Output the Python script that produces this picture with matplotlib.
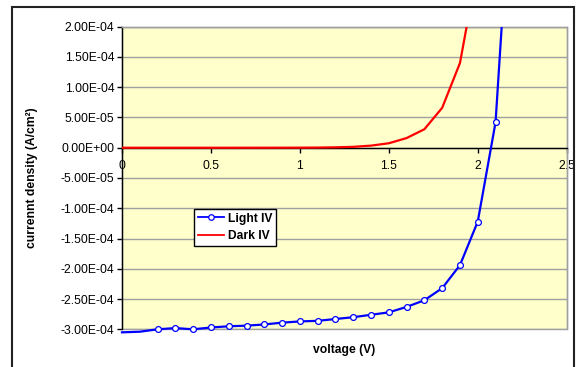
import matplotlib
matplotlib.use("Agg")
import matplotlib.pyplot as plt
from matplotlib.patches import Rectangle
from matplotlib.lines import Line2D
from matplotlib.ticker import FuncFormatter, MultipleLocator

plt.rcParams['font.family'] = ['Liberation Sans', 'DejaVu Sans']

# data
voltage = [0.0, 0.1, 0.2, 0.3, 0.4, 0.5, 0.6, 0.7, 0.8, 0.9, 1.0, 1.1,
           1.2, 1.3, 1.4, 1.5, 1.6, 1.7, 1.8, 1.9, 2.0, 2.1, 2.2]
light_iv = [-3.05e-4, -3.04e-4, -3.00e-4, -2.98e-4, -3.00e-4, -2.97e-4,
            -2.95e-4, -2.94e-4, -2.92e-4, -2.89e-4, -2.87e-4, -2.86e-4,
            -2.83e-4, -2.80e-4, -2.76e-4, -2.72e-4, -2.63e-4, -2.52e-4,
            -2.32e-4, -1.94e-4, -1.22e-4, 4.2e-5, 5.0e-4]
dark_v = [0.0, 0.1, 0.2, 0.3, 0.4, 0.5, 0.6, 0.7, 0.8, 0.9, 1.0, 1.1,
          1.2, 1.3, 1.4, 1.5, 1.6, 1.7, 1.8, 1.9, 2.0]
dark_iv = [0, 0, 0, 0, 0, 0, 0, 1e-8, 3e-8, 8e-8, 1.5e-7, 3e-7,
           7e-7, 1.5e-6, 3.5e-6, 7.4e-6, 1.6e-5, 3.06e-5, 6.6e-5, 1.40e-4, 3.0e-4]
x_ticks = [0, 0.5, 1, 1.5, 2, 2.5]
x_labels = ["0", "0.5", "1", "1.5", "2", "2.5"]

fs = 8.7

fig = plt.figure(figsize=(5.78, 3.67), dpi=100)
ax = fig.add_axes([122 / 578, 1 - 329.3 / 367, 444.7 / 578, 302.6 / 367])
ax.set_facecolor('#FFFFCC')

ax.set_xlim(0, 2.5)
ax.set_ylim(-3e-4, 2e-4)
ax.yaxis.set_major_locator(MultipleLocator(5e-5))
ax.yaxis.set_major_formatter(FuncFormatter(lambda v, p: "0.00E+00" if abs(v) < 1e-12 else f"{v:.2E}"))
ax.set_xticks(x_ticks)
ax.set_xticklabels(x_labels)
ax.grid(axis='y', color='#A0A0A0', lw=1)
ax.set_axisbelow(True)

ax.spines['bottom'].set_position(('data', 0))
ax.spines['bottom'].set_color('black')
ax.spines['left'].set_color('black')
ax.spines['right'].set_color('#A0A0A0')
ax.spines['top'].set_color('#A0A0A0')
for s in ax.spines.values():
    s.set_linewidth(1)
    s.set_zorder(1.5)

# plot area border (bottom edge at -3E-04)
ax.add_patch(Rectangle((0, 0), 1, 1, transform=ax.transAxes, fill=False,
                       edgecolor='#A0A0A0', lw=1, clip_on=False, zorder=1.2))

ax.tick_params(axis='both', direction='out', length=3.5, width=1, labelsize=fs, colors='black')
ax.tick_params(axis='x', pad=5)
ax.tick_params(axis='y', pad=2)

clip = Rectangle((-0.01, -0.02), 1.02, 1.02, transform=ax.transAxes)

line_light, = ax.plot(voltage, light_iv, color='#0000FF', lw=1.6,
                      marker='o', markersize=4.2, markerfacecolor='white',
                      markeredgecolor='#0000FF', markeredgewidth=0.9,
                      markevery=list(range(2, 22)), zorder=3)
line_light.set_clip_path(clip)
line_dark, = ax.plot(dark_v, dark_iv, color='#FF0000', lw=1.6, zorder=3)

h_light = Line2D([], [], color='#0000FF', lw=1.3, marker='o', markersize=4,
                 markerfacecolor='white', markeredgecolor='#0000FF', markeredgewidth=0.9)
h_dark = Line2D([], [], color='#FF0000', lw=1.3)
leg = fig.legend([h_light, h_dark], ['Light IV', 'Dark IV'],
                 loc='upper left', bbox_to_anchor=(194 / 578, 1 - 209 / 367),
                 fancybox=False, framealpha=1, edgecolor='black',
                 prop={'size': fs, 'weight': 'bold'}, handlelength=2.2,
                 handletextpad=0.3, borderpad=0.3, labelspacing=0.45,
                 numpoints=1, borderaxespad=0)
leg.get_frame().set_linewidth(1)

fig.text(32 / 578, 1 - 178 / 367, 'currennt density (A/cm²)', rotation=90,
         ha='center', va='center', fontsize=fs, fontweight='bold')
fig.text(344 / 578, 1 - 350 / 367, 'voltage (V)', ha='center', va='center',
         fontsize=fs, fontweight='bold')

fig.patches.append(Rectangle((12 / 578, -0.05), 562 / 578, (360 / 367) + 0.05,
                             transform=fig.transFigure, fill=False,
                             edgecolor='#222222', lw=1.5))

fig.savefig('out.png', dpi=100, facecolor='white')
